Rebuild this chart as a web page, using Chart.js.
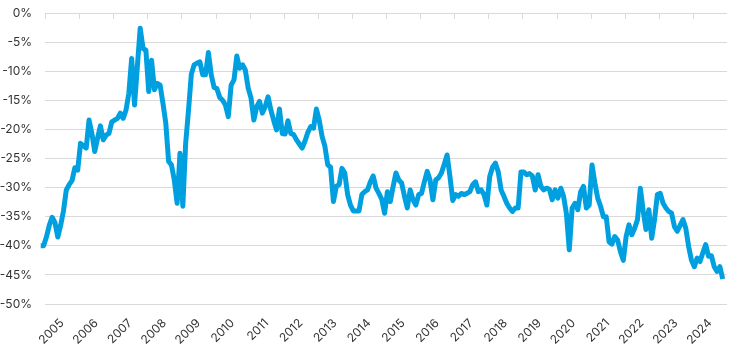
<!DOCTYPE html>
<html>
<head>
<meta charset="utf-8">
<script src="https://cdn.jsdelivr.net/npm/chart.js@4"></script>
<style>
  html, body { margin: 0; padding: 0; background: #fff; }
  #wrap { width: 730px; height: 358px; }
</style>
</head>
<body>
<div id="wrap"><canvas id="chart"></canvas></div>
<script>
// monthly series, first value is Nov 2004
const firstYear = 2004;
const firstMonth = 11;
const values = [
  -40, -40,
  -38.5, -36.5, -35.1, -36, -38.5, -36.5, -34, -30.4, -29.5, -28.8, -26.6, -27,
  -22.4, -22.8, -23.2, -18.4, -20.7, -23.8, -21.5, -19.4, -21.8, -21, -20.7, -18.7,
  -18.4, -18.1, -17.2, -18.1, -16.7, -13.8, -7.8, -15.8, -9.2, -2.6, -6.1, -6.4,
  -13.5, -8.1, -13.2, -12.1, -12.4, -15.5, -18.9, -25.5, -26.1, -28.7, -32.7, -24.1,
  -33.2, -22.4, -16.7, -10.5, -8.9, -8.6, -8.4, -10.6, -10.6, -6.8, -10.6, -12.8,
  -13, -14.5, -15, -15.8, -17.8, -12.4, -11.5, -7.4, -9.5, -8.9, -9.8, -12.9,
  -14.6, -18.4, -16.1, -15.2, -17.2, -16.1, -14.4, -16.7, -18.5, -20.1, -16.5, -20.7,
  -20.8, -18.5, -20.7, -20.9, -21.8, -22.5, -23.2, -22, -20.5, -19.5, -19.8, -16.5,
  -18.4, -21.2, -22.9, -26.1, -26.5, -32.4, -29.8, -29.5, -26.7, -27.5, -31.2, -33,
  -34, -34, -34, -31.2, -30.7, -30.4, -29, -28, -30.1, -31, -32, -34.4,
  -30.7, -32.4, -29.8, -27.5, -28.7, -29.2, -31.5, -33.5, -30.4, -32.1, -33, -31.2,
  -31, -29, -27.2, -28.7, -32.1, -28.7, -28.3, -27.5, -26, -24.4, -28.1, -32.2,
  -31.2, -31.5, -31, -31.2, -31, -30.7, -29.5, -29, -30.7, -30.4, -31.2, -33,
  -28.1, -26.5, -25.8, -27.3, -30.4, -31.5, -32.7, -33.5, -34.1, -33.5, -33.5, -27.3,
  -27.3, -27.8, -27.6, -28, -30.4, -27.8, -29.8, -30.4, -30.1, -30.3, -32.1, -30.4,
  -31.8, -30.1, -31.5, -34.5, -40.7, -33.5, -32.7, -33.8, -30.7, -29.8, -33.5, -33,
  -26.1, -29.2, -31.8, -33.2, -35, -35, -39.3, -39.7, -38.4, -39, -41, -42.5,
  -38.4, -36.4, -38.1, -37, -35.5, -30.1, -34, -37.2, -33.8, -38.7, -35.5, -31.2,
  -31, -32.7, -33.5, -34.1, -34.4, -36.7, -37.5, -36.5, -35.5, -37, -40.1, -42.5,
  -43.6, -42.1, -42.7, -41.2, -39.8, -41.8, -41.7, -43.6, -44.4, -43.6, -45.7
];
const yearLabels = ['2005', '2006', '2007', '2008', '2009', '2010', '2011', '2012', '2013', '2014',
  '2015', '2016', '2017', '2018', '2019', '2020', '2021', '2022', '2023', '2024'];
const yTicks = [0, -5, -10, -15, -20, -25, -30, -35, -40, -45, -50];

const font = { family: 'Inter, "Open Sans", sans-serif', size: 12 };
const textColor = '#333333';
const gridColor = '#d9d9d9';

// points sit mid-month
const points = values.map((v, i) => ({
  x: firstYear + (firstMonth - 1 + i + 0.5) / 12,
  y: v
}));

// short tick marks hanging from the 0% line at each year boundary
const topTicks = {
  id: 'topTicks',
  beforeDatasetsDraw(chart) {
    const { ctx, chartArea, scales: { x } } = chart;
    ctx.save();
    ctx.strokeStyle = gridColor;
    ctx.lineWidth = 1;
    yearLabels.forEach(l => {
      const px = Math.round(x.getPixelForValue(+l)) + 0.5;
      ctx.beginPath();
      ctx.moveTo(px, chartArea.top);
      ctx.lineTo(px, chartArea.top + 6);
      ctx.stroke();
    });
    ctx.restore();
  }
};

new Chart(document.getElementById('chart'), {
  type: 'line',
  data: {
    datasets: [{
      data: points,
      borderColor: '#00a0e0',
      borderWidth: 5,
      borderJoinStyle: 'round',
      pointRadius: 0,
      tension: 0,
      clip: false
    }]
  },
  options: {
    responsive: true,
    maintainAspectRatio: false,
    animation: false,
    layout: { padding: { top: 13, right: 3, left: 0, bottom: 0 } },
    plugins: { legend: { display: false }, tooltip: { enabled: false } },
    scales: {
      x: {
        type: 'linear',
        bounds: 'data',
        afterDataLimits: s => { s.min = 2005; s.max = 2025; },
        afterBuildTicks: s => { s.ticks = yearLabels.map(l => ({ value: +l + 0.5 })); },
        ticks: {
          callback: (v, i) => yearLabels[i],
          minRotation: 45,
          maxRotation: 45,
          autoSkip: false,
          padding: 4,
          font,
          color: textColor
        },
        grid: { display: false },
        border: { display: false },
        afterFit: s => { s.height = 54; }
      },
      y: {
        min: -50,
        max: 0,
        afterBuildTicks: s => { s.ticks = yTicks.map(v => ({ value: v })); },
        ticks: { callback: v => v + '%', padding: 0, font, color: textColor },
        grid: { color: gridColor, lineWidth: 1, drawTicks: true, tickLength: 13, tickColor: 'rgba(0,0,0,0)' },
        border: { display: false },
        afterFit: s => { s.width = 45; }
      }
    }
  },
  plugins: [topTicks]
});
</script>
</body>
</html>
